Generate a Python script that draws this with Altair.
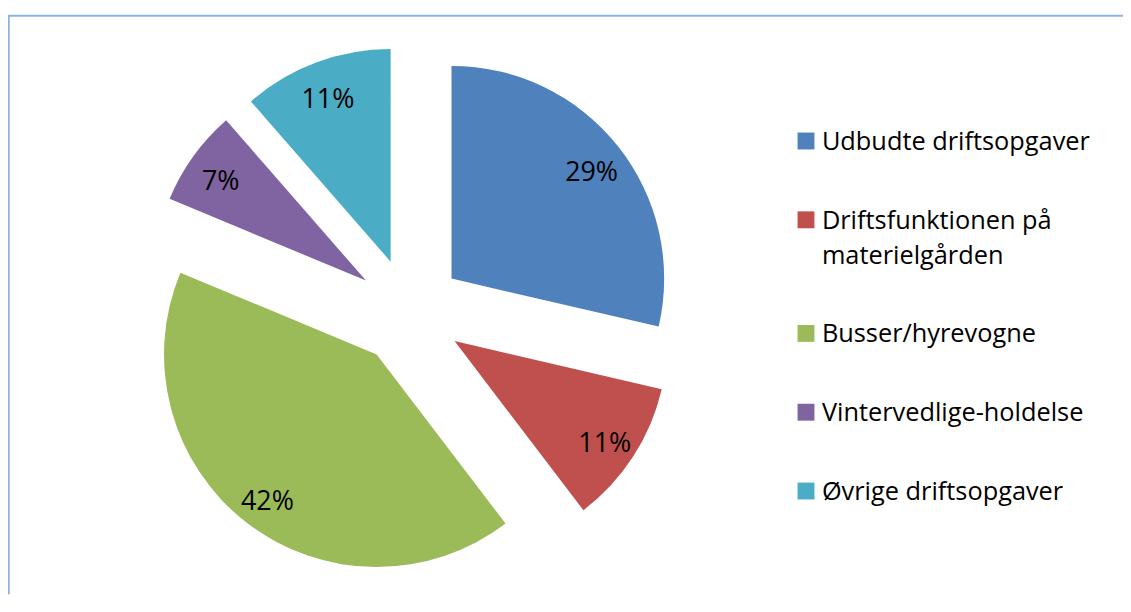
import altair as alt
import pandas as pd

# ---- data ----
categories = [
    "Udbudte driftsopgaver",
    "Driftsfunktionen på materielgården",
    "Busser/hyrevogne",
    "Vintervedlige-holdelse",
    "Øvrige driftsopgaver",
]
shares = [28.6, 11.0, 41.6, 7.3, 11.4]
colors = ["#4F81BD", "#C0504D", "#9BBB59", "#8064A2", "#4BACC6"]

# ---- layout / style ----
FONT = "Open Sans"
W, H = 1122, 588
CX, CY = 404, 304          # pie centre
R = 214                    # radius
EXPLODE = 54               # slice explosion distance
LABEL_R = 180              # label distance from slice apex
LEG_X, LEG_TX = 803, 819
LEG_Y0, LEG_STEP, LINE_H = 132, 79.3, 35
BORDER = "#8EB4E3"

df = pd.DataFrame({"category": categories, "share": shares,
                   "order": list(range(len(categories)))})

color = alt.Color("category:N",
                  scale=alt.Scale(domain=categories, range=colors),
                  legend=None)

base = (
    alt.Chart(df)
    .transform_window(cum="sum(share)", sort=[alt.SortField("order")], frame=[None, 0])
    .transform_joinaggregate(total="sum(share)")
    .transform_calculate(a0="2*PI*(datum.cum - datum.share)/datum.total")
    .transform_calculate(a1="2*PI*datum.cum/datum.total")
    .transform_calculate(mid="(datum.a0 + datum.a1)/2")
    .transform_calculate(px=f"{CX} + {EXPLODE}*sin(datum.mid)")
    .transform_calculate(py=f"{CY} - {EXPLODE}*cos(datum.mid)")
    .transform_calculate(lx=f"datum.px + {LABEL_R}*sin(datum.mid)")
    .transform_calculate(ly=f"datum.py - {LABEL_R}*cos(datum.mid)")
    .transform_calculate(pct="format(datum.share/datum.total, '.0%')")
)

arcs = base.mark_arc(outerRadius=R).encode(
    x=alt.X("px:Q", scale=None),
    y=alt.Y("py:Q", scale=None),
    theta=alt.Theta("a0:Q", scale=None, stack=False),
    theta2="a1:Q",
    color=color,
)

labels = base.mark_text(font=FONT, fontSize=27, color="black",
                        align="center", baseline="middle", dy=6).encode(
    x=alt.X("lx:Q", scale=None),
    y=alt.Y("ly:Q", scale=None),
    text="pct:N",
)

leg_base = (
    alt.Chart(df)
    .transform_calculate(
        lines="length(datum.category) > 22 ? "
              "[substring(datum.category, 0, lastindexof(substring(datum.category, 0, 22), ' ')), "
              "substring(datum.category, lastindexof(substring(datum.category, 0, 22), ' ') + 1)] "
              ": [datum.category]"
    )
    .transform_calculate(nl="length(datum.lines)")
    .transform_window(cumlines="sum(nl)", sort=[alt.SortField("order")], frame=[None, 0])
    .transform_calculate(
        gy=f"{LEG_Y0} + {LEG_STEP}*datum.order + {LINE_H}*(datum.cumlines - datum.nl - datum.order)"
    )
)

leg_sq = leg_base.mark_square(size=289, opacity=1).encode(
    x=alt.value(LEG_X),
    y=alt.Y("gy:Q", scale=None),
    color=color,
)

leg_txt = leg_base.mark_text(font=FONT, fontSize=25.5, color="black", align="left",
                             baseline="alphabetic", lineHeight=LINE_H, dy=9).encode(
    x=alt.value(LEG_TX),
    y=alt.Y("gy:Q", scale=None),
    text="lines:N",
)

one = pd.DataFrame({"k": [0]})
left_border = alt.Chart(one).mark_rule(color=BORDER, strokeWidth=1.75).encode(
    x=alt.value(0.9), y=alt.value(6), y2=alt.value(H))
top_border = alt.Chart(one).mark_rule(color=BORDER, strokeWidth=2).encode(
    x=alt.value(0), x2=alt.value(W), y=alt.value(6))

chart = (
    alt.layer(left_border, top_border, arcs, labels, leg_sq, leg_txt)
    .properties(width=W, height=H, padding=0,
                autosize=alt.AutoSizeParams(type="none"))
    .configure_view(strokeWidth=0)
)

chart.save("out.html", embed_options={"renderer": "svg", "actions": False})
